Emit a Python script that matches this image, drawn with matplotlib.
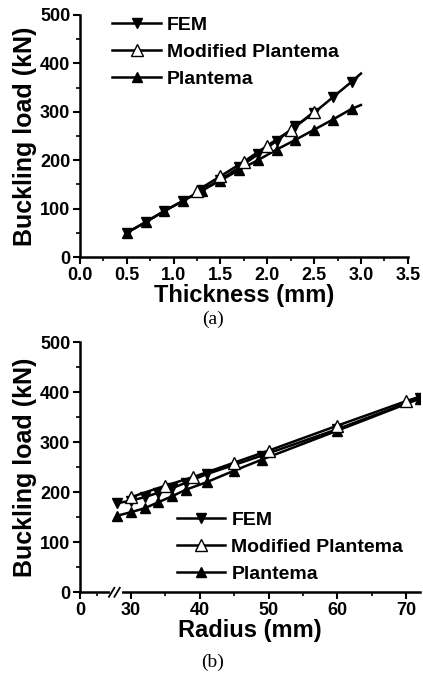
import numpy as np
import matplotlib
matplotlib.use('Agg')
import matplotlib.pyplot as plt
from matplotlib.ticker import FixedLocator, MultipleLocator

plt.rcParams['font.family'] = ['Liberation Sans', 'DejaVu Sans']
plt.rcParams['font.weight'] = 'bold'

# (a) buckling load vs thickness
t_fem = [0.5, 0.7, 0.9, 1.1, 1.3, 1.5, 1.7, 1.9, 2.1, 2.3, 2.5, 2.7, 2.9, 3.0]
p_fem_t = [50, 72, 95, 116, 138, 160, 185, 212, 240, 270, 298, 330, 362, 379]
t_mod = [1.25, 1.5, 1.75, 2.0, 2.25, 2.5]
p_mod_t = [137, 167, 197, 230, 262, 300]
t_pl = [0.5, 0.7, 0.9, 1.1, 1.3, 1.5, 1.7, 1.9, 2.1, 2.3, 2.5, 2.7, 2.9, 3.0]
p_pl_t = [50, 72, 95, 116, 137, 158, 180, 200, 222, 242, 263, 284, 306, 314]

# (b) buckling load vs radius
r_fem = [28, 30, 32, 34, 36, 38, 41, 49, 60, 72]
p_fem_r = [178, 183, 190, 199, 208, 219, 236, 273, 326, 388]
r_mod = [30, 35, 39, 45, 50, 60, 70, 72]
p_mod_r = [190, 213, 230, 259, 283, 333, 382, 391]
r_pl = [28, 30, 32, 34, 36, 38, 41, 45, 49, 60, 72]
p_pl_r = [153, 160, 168, 180, 192, 205, 220, 243, 265, 323, 387]

labels = ['FEM', 'Modified Plantema', 'Plantema']

BREAK_LO = 5.2
BREAK_HI = 27.8
GAP = BREAK_HI - BREAK_LO


def fwd(x):
    x = np.asarray(x, dtype=float)
    return np.where(x <= BREAK_LO, x, np.where(x >= BREAK_HI, x - GAP, BREAK_LO))


def inv(y):
    y = np.asarray(y, dtype=float)
    return np.where(y <= BREAK_LO, y, y + GAP)


fig = plt.figure(figsize=(4.23, 6.8), dpi=100)
ax1 = fig.add_axes([0.189, 0.622, 0.775, 0.356])
ax2 = fig.add_axes([0.189, 0.129, 0.804, 0.368])

ms = 7.5
lw = 1.8


def draw(ax, xf, yf, xm, ym, xp, yp):
    h1, = ax.plot(xf, yf, '-', color='black', lw=lw, marker='v', ms=ms,
                  mfc='black', mec='black', markevery=list(range(len(xf) - 1)) if xf[-1] == 3.0 else None)
    h3, = ax.plot(xp, yp, '-', color='black', lw=lw, marker='^', ms=ms,
                  mfc='black', mec='black', markevery=list(range(len(xp) - 1)) if xp[-1] == 3.0 else None)
    h2, = ax.plot(xm, ym, '-', color='black', lw=lw, marker='^', ms=ms + 1,
                  mfc='white', mec='black', mew=1.0,
                  markevery=list(range(len(xm) - 1)) if xm[-1] == 72 else None)
    return [h1, h2, h3]


for ax in (ax1, ax2):
    for s in ('top', 'right'):
        ax.spines[s].set_visible(False)
    for s in ('left', 'bottom'):
        ax.spines[s].set_linewidth(1.8)
    ax.tick_params(which='major', direction='out', length=5, width=1.5, labelsize=13, pad=2)
    ax.tick_params(which='minor', direction='out', length=3, width=1.2)
    ax.set_ylim(0, 500)
    ax.yaxis.set_major_locator(MultipleLocator(100))
    ax.yaxis.set_minor_locator(MultipleLocator(50))
    for lab in ax.get_xticklabels() + ax.get_yticklabels():
        lab.set_fontweight('bold')

# top
hs = draw(ax1, t_fem, p_fem_t, t_mod, p_mod_t, t_pl, p_pl_t)
ax1.set_xlim(0, 3.5)
ax1.xaxis.set_major_locator(MultipleLocator(0.5))
ax1.xaxis.set_minor_locator(MultipleLocator(0.25))
ax1.xaxis.set_major_formatter(plt.FormatStrFormatter('%.1f'))
ax1.set_xlabel('Thickness (mm)', fontsize=17, fontweight='bold', labelpad=0)
ax1.set_ylabel('Buckling load (kN)', fontsize=18, fontweight='bold', labelpad=2)
ax1.legend(hs, labels, loc='upper left', bbox_to_anchor=(0.075, 1.025), frameon=False,
           fontsize=14, handlelength=2.5, handletextpad=0.3, labelspacing=0.48,
           borderaxespad=0)
fig.text(0.503, 0.53, '(a)', ha='center', va='center', fontsize=14,
         family='Liberation Serif', fontweight='normal')

# bottom
ax2.set_xscale('function', functions=(fwd, inv))
hs = draw(ax2, r_fem, p_fem_r, r_mod, p_mod_r, r_pl, p_pl_r)
ax2.set_xlim(0, 72)
ax2.xaxis.set_major_locator(FixedLocator([0, 30, 40, 50, 60, 70]))
ax2.xaxis.set_minor_locator(FixedLocator([2.5, 35, 45, 55, 65]))
ax2.set_xlabel('Radius (mm)', fontsize=17, fontweight='bold', labelpad=0)
ax2.set_ylabel('Buckling load (kN)', fontsize=18, fontweight='bold', labelpad=2)
ax2.legend(hs, labels, loc='upper left', bbox_to_anchor=(0.262, 0.355), frameon=False,
           fontsize=14, handlelength=2.5, handletextpad=0.3, labelspacing=0.48,
           borderaxespad=0)
# axis break marks
bx = fwd(BREAK_LO + 0.01) / fwd(72)
ax2.plot([bx - 0.012, bx + 0.012], [0, 0], color='white', lw=3,
         transform=ax2.transAxes, clip_on=False, zorder=5)
for dx in (-0.012, 0.004):
    ax2.plot([bx + dx - 0.008, bx + dx + 0.008], [-0.018, 0.018], color='black', lw=1.3,
             transform=ax2.transAxes, clip_on=False, zorder=6)
fig.text(0.503, 0.026, '(b)', ha='center', va='center', fontsize=14,
         family='Liberation Serif', fontweight='normal')

fig.savefig('out.png', dpi=100)
